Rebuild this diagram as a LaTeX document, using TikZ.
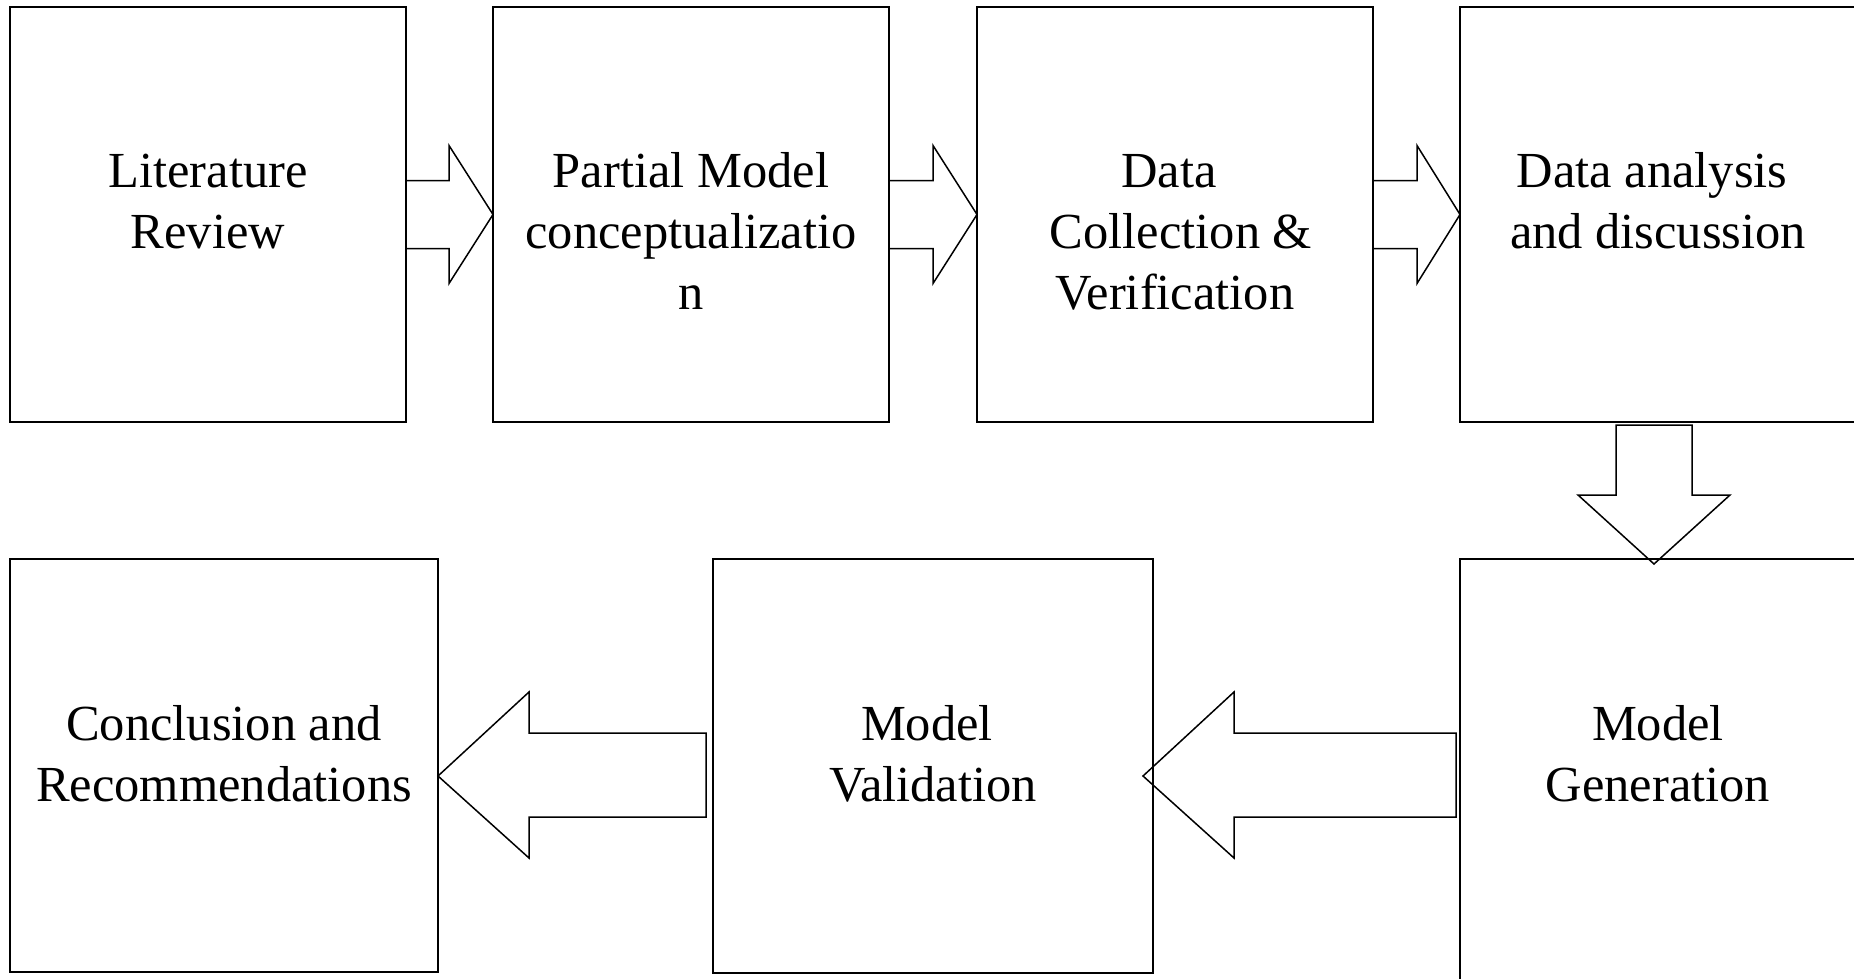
\documentclass[tikz,border=0pt]{standalone}
\usepackage{fontspec}
\setmainfont{Liberation Serif}
\usetikzlibrary{calc}
\newcommand\tsp{\kern12pt}
\begin{document}
\begin{tikzpicture}[x=1pt,y=-1pt,
  box/.style={draw, rectangle, line width=1.7pt, inner sep=0pt, outer sep=0pt, anchor=north west},
  topbox/.style={box, minimum width=396pt, minimum height=415pt},
  txt/.style={align=center, inner sep=0pt, outer sep=0pt, anchor=north, font=\fontsize{50.5}{61}\selectfont},
  blk/.style={draw, line width=1.5pt, line join=miter}]
\useasboundingbox (0,0) rectangle (1854,979);
\clip (0,0) rectangle (1854,979);
% top row
\node[topbox] (b1) at (10,7) {};
\node[topbox] (b2) at (493,7) {};
\node[topbox] (b3) at (977,7) {};
\node[topbox] (b4) at (1460,7) {};
% bottom row
\node[box, minimum width=428pt, minimum height=413pt] (c) at (10,559) {};
\node[box, minimum width=440pt, minimum height=414pt] (v) at (713,559) {};
\node[box, minimum width=396pt, minimum height=440pt] (g) at (1460,559) {};
% texts
\node[txt] (t1) at ($(b1.north)+(0,137.3)$) {\strut Literature\\Review};
\node[txt] (t2) at ($(b2.north)+(0,137.3)$) {\strut Partial Model\\conceptualizatio\\n};
\node[txt] (t3) at ($(b3.north)+(0,137.3)$) {\strut Data\tsp\\\tsp Collection \&\\Verification};
\node[txt] (t4) at ($(b4.north)+(0,137.3)$) {\strut Data analysis\tsp\\and discussion};
\node[txt] (tc) at ($(c.north)+(0,138.3)$) {\strut Conclusion and\\Recommendations};
\node[txt] (tv) at ($(v.north)+(0,138.3)$) {\strut Model\tsp\\Validation};
\node[txt] (tg) at ($(g.north)+(0,138.3)$) {\strut Model\\Generation};
% right block arrows (top row)
\draw[blk] ($(b1.east)+(0,-34)$) -- ++(43,0) -- ++(0,-35) -- (b2.west) -- ($(b1.east)+(43,69)$) -- ++(0,-35) -- ($(b1.east)+(0,34)$) -- cycle;
\draw[blk] ($(b2.east)+(0,-34)$) -- ++(44,0) -- ++(0,-35) -- (b3.west) -- ($(b2.east)+(44,69)$) -- ++(0,-35) -- ($(b2.east)+(0,34)$) -- cycle;
\draw[blk] ($(b3.east)+(0,-34)$) -- ++(44,0) -- ++(0,-35) -- (b4.west) -- ($(b3.east)+(44,69)$) -- ++(0,-35) -- ($(b3.east)+(0,34)$) -- cycle;
% down block arrow
\coordinate (d0) at ($(b4.south)+(-4,3)$);
\draw[blk] ($(d0)+(-38,0)$) -- ++(0,70) -- ++(-38,0) -- ($(g.north)+(-4,5)$) -- ($(d0)+(76,70)$) -- ++(-38,0) -- ++(0,-70) -- cycle;
% left block arrows (bottom row)
\coordinate (p1) at ($(v.east)+(-10,10)$);
\draw[blk] (p1) -- ++(91,-84) -- ++(0,41) -- ($(g.west |- p1)+(-4,-43)$) -- ++(0,84) -- ($(p1)+(91,41)$) -- ++(0,41) -- cycle;
\coordinate (p2) at ($(c.east)+(0,10.5)$);
\draw[blk] (p2) -- ++(91,-84) -- ++(0,41) -- ($(v.west |- p2)+(-7,-43)$) -- ++(0,84) -- ($(p2)+(91,41)$) -- ++(0,41) -- cycle;
\end{tikzpicture}
\end{document}
